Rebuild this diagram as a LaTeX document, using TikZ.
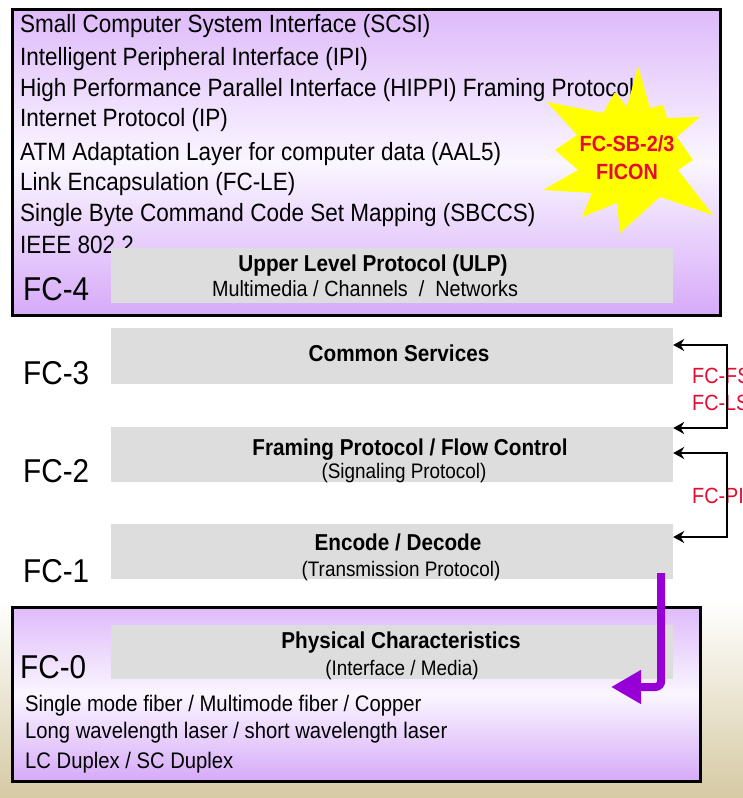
\documentclass[tikz,border=0pt]{standalone}
\usepackage{fontspec}
\setmainfont[FakeStretch=0.9]{Liberation Sans}
\usetikzlibrary{arrows.meta,calc}
\definecolor{lavtop}{RGB}{222,186,250}
\definecolor{lavmid}{RGB}{250,246,255}
\definecolor{lavbot}{RGB}{214,170,248}
\definecolor{boxgray}{RGB}{221,221,221}
\definecolor{fcred}{RGB}{228,12,48}
\definecolor{arrowpurple}{RGB}{150,0,215}
\definecolor{beigebg}{RGB}{214,202,164}
\definecolor{staryellow}{RGB}{255,255,0}
\tikzset{
  frame/.style={draw=black, line width=3pt, top color=lavtop, bottom color=lavbot, middle color=lavmid, inner sep=0pt},
  graybox/.style={fill=boxgray, draw=none, minimum width=562pt, inner sep=0pt},
  lst/.style={anchor=base west, inner sep=0pt, font=\fontsize{25}{30}\selectfont},
  lowlst/.style={anchor=base west, inner sep=0pt, font=\fontsize{22.5}{27}\selectfont},
  fclbl/.style={anchor=base west, inner sep=0pt, font=\fontsize{33}{38}\selectfont},
  ttl/.style={anchor=base, inner sep=0pt, font=\bfseries\fontsize{23}{27}\selectfont},
  subttl/.style={anchor=base, inner sep=0pt, font=\fontsize{21}{25}\selectfont},
  redlbl/.style={anchor=base west, inner sep=0pt, text=fcred, font=\fontsize{22}{26}\selectfont},
  startxt/.style={anchor=base, inner sep=0pt, text=fcred, font=\bfseries\fontsize{22}{26}\selectfont},
  brk/.style={draw=black, line width=2.5pt, {Stealth[length=11pt,width=12pt]}-{Stealth[length=11pt,width=12pt]}},
}
\begin{document}
\begin{tikzpicture}[x=1pt,y=-1pt]
\path[use as bounding box] (0,0) rectangle (743,798);
\clip (0,0) rectangle (743,798);
% background
\fill[white] (0,0) rectangle (743,798);
\shade[top color=white, bottom color=beigebg] (0,600) rectangle (743,798);
\foreach \a in {8,14,20,26,34,42,52,64,78} {
  \fill[white, opacity=0.35] (-40,1000) -- ++({90-\a+0.6}:1200) -- ++({90-\a-0.6+180}:1200) -- cycle;
}
% FC-4 frame
\node[frame, minimum width=708pt, minimum height=306pt] (fc4frame) at (366,162) {};
\node[lst] (l1) at (20,32.5) {Small Computer System Interface (SCSI)};
\node[lst] (l2) at (20,65.5) {Intelligent Peripheral Interface (IPI)};
\node[lst] (l3) at (20,96.5) {High Performance Parallel Interface (HIPPI) Framing Protocol};
\node[lst] (l4) at (20,126.5) {Internet Protocol (IP)};
\node[lst] (l5) at (20,160.5) {ATM Adaptation Layer for computer data (AAL5)};
\node[lst] (l6) at (20,190.5) {Link Encapsulation (FC-LE)};
\node[lst] (l7) at (20,221.5) {Single Byte Command Code Set Mapping (SBCCS)};
\node[lst] (l8) at (20,253.5) {IEEE 802.2};
\node[graybox, minimum height=55pt] (ulp) at (392,275.5) {};
\node[ttl] (ulpt) at (373,271) {Upper Level Protocol (ULP)};
\node[subttl, font=\fontsize{22}{26}\selectfont] (ulps) at (365,296) {Multimedia / Channels \ / \ Networks};
\node[fclbl] (fc4) at (23,300) {FC-4};
% star
\fill[staryellow] (638,66) -- (650,108) -- (663,105) -- (667,118) -- (700,117) -- (677,137)
  -- (693,160) -- (678,170) -- (713,215) -- (660,197) -- (620,233) -- (617,203)
  -- (582,217) -- (592,193) -- (543,190) -- (578,170) -- (555,150) -- (577,135)
  -- (547,102) -- (603,113) -- (615,92) -- (627,107) -- cycle;
\node[startxt] (s1) at (627,151.5) {FC-SB-2/3};
\node[startxt] (s2) at (627,179) {FICON};
% middle layers
\node[graybox, minimum height=56pt] (fc3box) at (392,356) {};
\node[ttl] (fc3t) at (399,361) {Common Services};
\node[fclbl] (fc3) at (23,384) {FC-3};
\node[graybox, minimum height=55pt] (fc2box) at (392,454.5) {};
\node[ttl] (fc2t) at (410,455) {Framing Protocol / Flow Control};
\node[subttl] (fc2s) at (404,478) {(Signaling Protocol)};
\node[fclbl] (fc2) at (23,482) {FC-2};
\node[graybox, minimum height=55pt] (fc1box) at (392,551.5) {};
\node[ttl] (fc1t) at (398,550) {Encode / Decode};
\node[subttl] (fc1s) at (401,576) {(Transmission Protocol)};
\node[fclbl] (fc1) at (23,582) {FC-1};
% right-hand labels and brackets
\node[redlbl] (fs) at (692,383) {FC-FS};
\node[redlbl] (ls) at (692,410) {FC-LS};
\node[redlbl] (pi) at (692,503) {FC-PI};
\coordinate (k1) at (727,345);
\coordinate (k2) at (727,428);
\coordinate (k3) at (727,453);
\coordinate (k4) at (727,537);
\draw[brk] (fc3box.east |- k1) -- (k1) -- (k2) -- (fc2box.east |- k2);
\draw[brk] (fc2box.east |- k3) -- (k3) -- (k4) -- (fc1box.east |- k4);
% FC-0 frame
\node[frame, minimum width=688pt, minimum height=174pt] (fc0frame) at (356,694) {};
\node[graybox, minimum width=562pt, minimum height=54pt] (fc0box) at (392,652) {};
\node[ttl] (fc0t) at (401,648) {Physical Characteristics};
\node[subttl] (fc0s) at (402,675) {(Interface / Media)};
\node[fclbl] (fc0) at (20,678) {FC-0};
\node[lowlst] (b1) at (25,711) {Single mode fiber / Multimode fiber / Copper};
\node[lowlst] (b2) at (25,738) {Long wavelength laser / short wavelength laser};
\node[lowlst] (b3) at (25,768) {LC Duplex / SC Duplex};
% purple arrow
\coordinate (pend) at (611,687);
\draw[arrowpurple, line width=8pt, rounded corners=6pt, -{Triangle[length=30pt,width=32pt]}]
  ($(fc1box.south east)+(-12,-6)$) |- (pend);
\end{tikzpicture}
\end{document}
